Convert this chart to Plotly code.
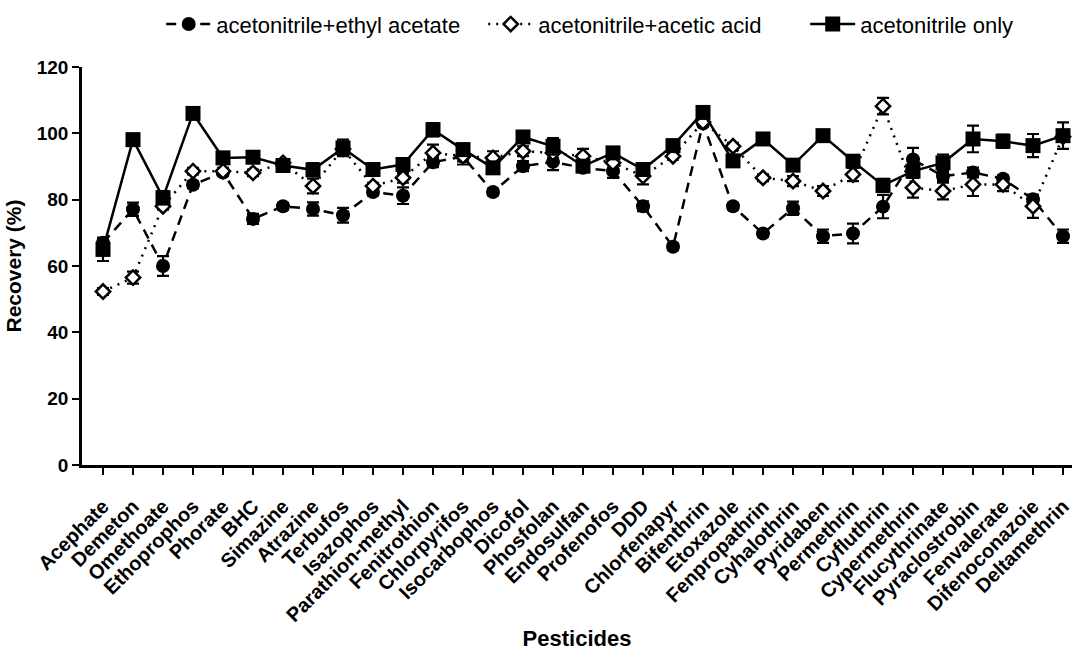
import plotly.graph_objects as go

pesticides = ["Acephate", "Demeton", "Omethoate", "Ethoprophos", "Phorate", "BHC", "Simazine",
              "Atrazine", "Terbufos", "Isazophos", "Parathion-methyl", "Fenitrothion", "Chlorpyrifos",
              "Isocarbophos", "Dicofol", "Phosfolan", "Endosulfan", "Profenofos", "DDD", "Chlorfenapyr",
              "Bifenthrin", "Etoxazole", "Fenpropathrin", "Cyhalothrin", "Pyridaben", "Permethrin",
              "Cyfluthrin", "Cypermethrin", "Flucythrinate", "Pyraclostrobin", "Fenvalerate",
              "Difenoconazoie", "Deltamethrin"]

ethyl_acetate = [67, 77.1, 60, 84.5, 88.2, 74.2, 78, 77.2, 75.3, 82.3, 81.2, 91.3, 93, 82.3, 90.1,
                 91.4, 89.6, 88.6, 78, 65.8, 103, 78, 69.8, 77.4, 69, 69.8, 77.9, 92.1, 87.1,
                 88.2, 86.3, 80.1, 69]
ethyl_acetate_err = [1.5, 2, 3, 1, 1, 1.5, 1, 2, 2.2, 1, 2.5, 1.5, 1.5, 1, 1.5, 2.5, 1.2, 2, 1.5, 1,
                     1, 1, 1, 2, 2, 3, 3.5, 3.5, 1.5, 1.5, 1, 1, 2]

acetic_acid = [52.3, 56.5, 78, 88.6, 88.6, 88.1, 91.1, 84.1, 95.3, 84.1, 86.6, 94.1, 93.1, 92.6,
               94.6, 94.1, 93.1, 91.1, 87.1, 93.1, 103.4, 96.1, 86.6, 85.6, 82.6, 87.6, 108.2,
               83.6, 82.6, 84.6, 84.6, 78, 99]
acetic_acid_err = [1, 1.8, 1, 1, 1, 1, 1, 2.2, 1, 1, 1.5, 2.5, 2.5, 2, 1.5, 1.5, 2.2, 1.5, 2.5, 1,
                   1, 1, 1, 1.5, 1.5, 2, 2.5, 3, 2.5, 3.5, 2, 3.5, 1]

acetonitrile_only = [65, 98.1, 80.6, 106, 92.6, 92.8, 90.3, 89, 95.6, 89.1, 90.6, 101.1, 95.1, 89.6,
                     98.9, 96.1, 90.1, 94.1, 89.1, 96.3, 106.3, 91.7, 98.3, 90.4, 99.3, 91.6, 84.3,
                     88.6, 91.1, 98.3, 97.6, 96.3, 99.3]
acetonitrile_only_err = [3.5, 1, 2, 1, 1, 1.5, 1.5, 2, 2.5, 1, 1.5, 2, 1.5, 1, 1.5, 2.5, 1, 1.5, 1,
                         1, 1.5, 1, 1, 1.5, 1, 1.5, 2, 2, 2.5, 4, 2, 3.5, 4]

idx = list(range(len(pesticides)))
FONT = "Liberation Sans, Arial, sans-serif"

fig = go.Figure()

def add(name, y, err, symbol, size, fill, dash):
    fig.add_trace(go.Scatter(
        x=idx, y=y, name=name, mode="lines+markers",
        line=dict(color="black", width=2.5, dash=dash),
        marker=dict(symbol=symbol, size=size, color=fill,
                    line=dict(color="black", width=2.5 if fill == "white" else 0)),
        error_y=dict(type="data", array=err, visible=True, color="black",
                     thickness=2.2, width=6),
    ))

add("acetonitrile+ethyl acetate", ethyl_acetate, ethyl_acetate_err, "circle", 14, "black", "10px,7px")
add("acetonitrile+acetic acid", acetic_acid, acetic_acid_err, "diamond", 11, "white", "2px,6px")
add("acetonitrile only", acetonitrile_only, acetonitrile_only_err, "square", 15, "black", "solid")

fig.update_layout(
    width=1072, height=651,
    margin=dict(l=82, r=0, t=67, b=186, autoexpand=False),
    plot_bgcolor="white", paper_bgcolor="white",
    font=dict(family=FONT, color="black"),
    showlegend=True,
    legend=dict(orientation="h", x=0.08, xanchor="left", y=0.995, yanchor="top",
                yref="container", font=dict(size=22, family=FONT), itemwidth=45,
                bgcolor="rgba(0,0,0,0)", entrywidth=262, entrywidthmode="pixels"),
    xaxis=dict(
        range=[-0.7, 32.3], tickmode="array", tickvals=idx, ticktext=pesticides,
        tickangle=-45, tickfont=dict(size=20, family=FONT, weight="bold"),
        ticklabeloverflow="allow", ticklabelstandoff=12,
        showline=True, linecolor="black", linewidth=2.5, ticks="outside",
        ticklen=7, tickwidth=2, tickcolor="black", showgrid=False, zeroline=False,
        title=dict(text="Pesticides", font=dict(size=22, family=FONT, weight="bold"), standoff=10),
    ),
    yaxis=dict(
        range=[0, 120], tickvals=[0, 20, 40, 60, 80, 100, 120],
        tickfont=dict(size=19, family=FONT, weight="bold"),
        showline=True, linecolor="black", linewidth=2.5, ticks="outside",
        ticklen=7, tickwidth=2, tickcolor="black", showgrid=False, zeroline=False,
        title=dict(text="Recovery (%)", font=dict(size=21, family=FONT, weight="bold"), standoff=10),
    ),
)

fig.write_html("out.html")
